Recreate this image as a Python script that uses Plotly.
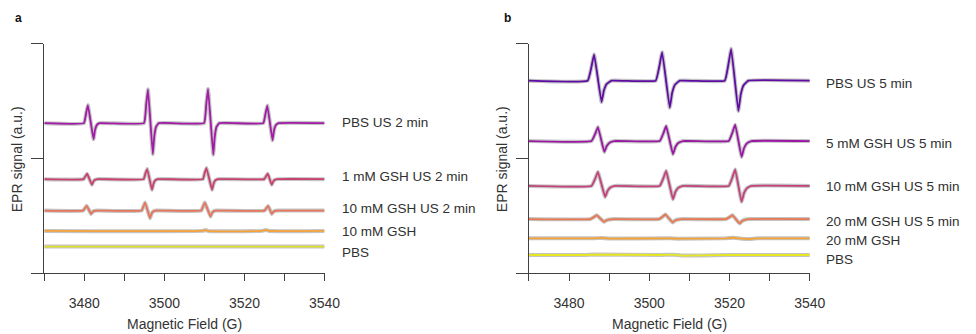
import plotly.graph_objects as go

# ---------------- Panel a (DMPO, US 2 min) ----------------
a_labels = ["PBS US 2 min", "1 mM GSH US 2 min", "10 mM GSH US 2 min", "10 mM GSH", "PBS"]
a_colors = ["#a21aa6", "#c8406f", "#e8745a", "#f6a23b", "#dfe02e"]
a_label_y = [1.31, 0.838, 0.559, 0.358, 0.175]

a_pbs_us_x = [3470, 3479.9, 3480.45, 3480.9, 3482.3, 3482.65, 3483.1, 3483.8,
              3494.9, 3495.45, 3495.9, 3497.1, 3497.45, 3497.9, 3498.6,
              3509.9, 3510.45, 3510.9, 3512.2, 3512.55, 3513.0, 3513.7,
              3524.7, 3525.25, 3525.7, 3527.0, 3527.35, 3527.8, 3528.5, 3540]
a_pbs_us_y = [1.306, 1.306, 1.392, 1.463, 1.166, 1.243, 1.289, 1.306,
              1.306, 1.468, 1.601, 1.035, 1.184, 1.273, 1.306,
              1.306, 1.470, 1.604, 1.031, 1.182, 1.273, 1.306,
              1.306, 1.390, 1.459, 1.157, 1.239, 1.288, 1.306, 1.306]

a_gsh1_us_x = [3470, 3479.8, 3480.3, 3480.7, 3481.9, 3482.25, 3482.7, 3483.4,
               3494.8, 3495.25, 3495.7, 3496.9, 3497.25, 3497.7, 3498.4,
               3509.6, 3510.05, 3510.5, 3511.9, 3512.25, 3512.7, 3513.4,
               3524.9, 3525.4, 3525.8, 3526.8, 3527.15, 3527.6, 3528.3, 3540]
a_gsh1_us_y = [0.818, 0.818, 0.844, 0.865, 0.769, 0.796, 0.812, 0.818,
               0.818, 0.866, 0.906, 0.725, 0.776, 0.807, 0.818,
               0.818, 0.871, 0.914, 0.725, 0.776, 0.807, 0.818,
               0.818, 0.844, 0.865, 0.769, 0.796, 0.812, 0.818, 0.818]

a_gsh10_us_x = [3470, 3479.7, 3480.2, 3480.6, 3481.7, 3482.05, 3482.5, 3483.2,
                3494.3, 3494.8, 3495.2, 3496.4, 3496.75, 3497.2, 3497.9,
                3509.2, 3509.7, 3510.1, 3511.5, 3511.85, 3512.3, 3513.0,
                3525.0, 3525.5, 3525.9, 3526.8, 3527.15, 3527.6, 3528.3, 3540]
a_gsh10_us_y = [0.544, 0.544, 0.567, 0.585, 0.515, 0.531, 0.541, 0.544,
                0.544, 0.583, 0.614, 0.478, 0.514, 0.536, 0.544,
                0.544, 0.583, 0.614, 0.492, 0.521, 0.538, 0.544,
                0.544, 0.567, 0.585, 0.515, 0.531, 0.541, 0.544, 0.544]

a_gsh10_x = [3470, 3509.5, 3510.3, 3511.2, 3524.5, 3525.3, 3526.2, 3540]
a_gsh10_y = [0.367, 0.367, 0.374, 0.364, 0.367, 0.375, 0.366, 0.367]

a_pbs_x = [3470, 3540]
a_pbs_y = [0.230, 0.230]

# ---------------- Panel b (TEMP, US 5 min) ----------------
b_labels = ["PBS US 5 min", "5 mM GSH US 5 min", "10 mM GSH US 5 min",
            "20 mM GSH US 5 min", "20 mM GSH", "PBS"]
b_colors = ["#5e0ca4", "#9a17a4", "#c4417a", "#e9774f", "#f4a236", "#e6e622"]
b_label_y = [1.65, 1.128, 0.750, 0.446, 0.287, 0.122]

b_pbs_us_x = [3470, 3484.65, 3485.55, 3486.25, 3488.1, 3488.7, 3489.4, 3490.6,
              3501.6, 3502.5, 3503.2, 3505.1, 3505.7, 3506.4, 3507.6,
              3518.8, 3519.7, 3520.4, 3522.2, 3522.8, 3523.5, 3524.7, 3540]
b_pbs_us_y = [1.676, 1.676, 1.790, 1.904, 1.490, 1.592, 1.648, 1.676,
              1.676, 1.800, 1.924, 1.441, 1.570, 1.641, 1.676,
              1.676, 1.815, 1.954, 1.411, 1.557, 1.636, 1.676, 1.676]

b_gsh5_us_x = [3470, 3485.6, 3486.5, 3487.2, 3488.8, 3489.4, 3490.1, 3491.3,
               3502.6, 3503.5, 3504.2, 3505.9, 3506.5, 3507.2, 3508.4,
               3519.8, 3520.7, 3521.4, 3523.0, 3523.6, 3524.3, 3525.5, 3540]
b_gsh5_us_y = [1.150, 1.150, 1.211, 1.272, 1.055, 1.107, 1.136, 1.150,
               1.150, 1.216, 1.281, 1.035, 1.098, 1.133, 1.150,
               1.150, 1.222, 1.293, 1.011, 1.087, 1.129, 1.150, 1.150]

b_gsh10_us_x = [3470, 3485.6, 3486.5, 3487.2, 3489.0, 3489.6, 3490.3, 3491.5,
                3502.6, 3503.5, 3504.2, 3505.9, 3506.5, 3507.2, 3508.4,
                3519.8, 3520.7, 3521.4, 3523.0, 3523.6, 3524.3, 3525.5, 3540]
b_gsh10_us_y = [0.759, 0.759, 0.820, 0.881, 0.663, 0.716, 0.745, 0.759,
                0.759, 0.825, 0.890, 0.643, 0.707, 0.742, 0.759,
                0.759, 0.831, 0.902, 0.620, 0.696, 0.738, 0.759, 0.759]

b_gsh20_us_x = [3470, 3485.3, 3486.2, 3486.9, 3488.7, 3489.3, 3490.0, 3491.2,
                3502.4, 3503.3, 3504.0, 3505.8, 3506.4, 3507.1, 3508.3,
                3519.1, 3520.0, 3520.7, 3522.5, 3523.1, 3523.8, 3525.0, 3540]
b_gsh20_us_y = [0.470, 0.470, 0.487, 0.504, 0.446, 0.459, 0.466, 0.470,
                0.470, 0.490, 0.510, 0.441, 0.457, 0.466, 0.470,
                0.470, 0.487, 0.504, 0.432, 0.453, 0.464, 0.470, 0.470]

b_gsh20_x = [3470, 3486, 3488, 3490, 3505, 3507, 3519, 3521, 3523, 3525, 3527, 3540]
b_gsh20_y = [0.302, 0.302, 0.306, 0.300, 0.302, 0.299, 0.302, 0.307, 0.299, 0.296, 0.302, 0.302]

b_pbs_x = [3470, 3484, 3486, 3503, 3506, 3508, 3520, 3540]
b_pbs_y = [0.157, 0.157, 0.161, 0.157, 0.160, 0.152, 0.157, 0.157]

x_ticks = [3470, 3480, 3490, 3500, 3510, 3520, 3530, 3540]
x_ticktext = ["", "3480", "", "3500", "", "3520", "", "3540"]
y_ticks = [0, 1, 2]

FONT = "Arial, Liberation Sans, Helvetica, sans-serif"

fig = go.Figure()

a_series = [(a_pbs_us_x, a_pbs_us_y), (a_gsh1_us_x, a_gsh1_us_y),
            (a_gsh10_us_x, a_gsh10_us_y), (a_gsh10_x, a_gsh10_y), (a_pbs_x, a_pbs_y)]
b_series = [(b_pbs_us_x, b_pbs_us_y), (b_gsh5_us_x, b_gsh5_us_y),
            (b_gsh10_us_x, b_gsh10_us_y), (b_gsh20_us_x, b_gsh20_us_y),
            (b_gsh20_x, b_gsh20_y), (b_pbs_x, b_pbs_y)]

def add_panel(series, colors, labels, xa, ya):
    for (xs, ys), col, lab in zip(series, colors, labels):
        fig.add_trace(go.Scatter(x=xs, y=ys, mode="lines", xaxis=xa, yaxis=ya,
                                 line=dict(color="#c4c4c4", width=4, shape="spline", smoothing=0.3),
                                 hoverinfo="skip", showlegend=False))
        fig.add_trace(go.Scatter(x=xs, y=ys, mode="lines", xaxis=xa, yaxis=ya, name=lab,
                                 line=dict(color=col, width=1.8, shape="spline", smoothing=0.3),
                                 showlegend=False))

add_panel(a_series, a_colors, a_labels, "x", "y")
add_panel(b_series, b_colors, b_labels, "x2", "y2")

xcommon = dict(range=[3470, 3540], tickvals=x_ticks, ticktext=x_ticktext,
               ticks="outside", ticklen=7, tickwidth=1, tickcolor="#404040",
               showline=True, linecolor="#404040", linewidth=1, showgrid=False,
               zeroline=False, tickfont=dict(family=FONT, size=14, color="#333333"),
               ticklabelstandoff=10)
ycommon = dict(range=[0, 2], tickvals=y_ticks, showticklabels=False,
               ticks="outside", ticklen=12, tickwidth=1, tickcolor="#404040",
               showline=True, linecolor="#404040", linewidth=1, showgrid=False,
               zeroline=False, domain=[61 / 334, 290.5 / 334])

fig.update_layout(
    width=976, height=334, margin=dict(l=0, r=0, t=0, b=0),
    paper_bgcolor="white", plot_bgcolor="white",
    xaxis=dict(domain=[45 / 976, 330 / 976], anchor="y", **xcommon),
    yaxis=dict(anchor="x", **ycommon),
    xaxis2=dict(domain=[537.7 / 976, 823.3 / 976], anchor="y2", **xcommon),
    yaxis2=dict(anchor="x2", **ycommon),
)

annotations = []
for lab, yv in zip(a_labels, a_label_y):
    annotations.append(dict(x=3540, y=yv, xref="x", yref="y", text=lab, showarrow=False,
                            xanchor="left", yanchor="middle", xshift=15,
                            font=dict(family=FONT, size=13.5, color="#303030")))
for lab, yv in zip(b_labels, b_label_y):
    annotations.append(dict(x=3540, y=yv, xref="x2", yref="y2", text=lab, showarrow=False,
                            xanchor="left", yanchor="middle", xshift=14,
                            font=dict(family=FONT, size=13.5, color="#303030")))

for cx, letter in [(19, "a"), (516, "b")]:
    annotations.append(dict(x=cx / 976, y=1 - 18 / 334, xref="paper", yref="paper",
                            text="<b>" + letter + "</b>", showarrow=False,
                            xanchor="center", yanchor="middle",
                            font=dict(family=FONT, size=12, color="#111111")))
for cx in [187.5, 680.5]:
    annotations.append(dict(x=cx / 976, y=1 - 324 / 334, xref="paper", yref="paper",
                            text="Magnetic Field (G)", showarrow=False,
                            xanchor="center", yanchor="middle",
                            font=dict(family=FONT, size=14, color="#333333")))
for cx in [17.5, 510.5]:
    annotations.append(dict(x=cx / 976, y=1 - 159 / 334, xref="paper", yref="paper",
                            text="EPR signal (a.u.)", showarrow=False, textangle=-90,
                            xanchor="center", yanchor="middle",
                            font=dict(family=FONT, size=14, color="#333333")))

fig.update_layout(annotations=annotations)
fig.write_html("out.html")
